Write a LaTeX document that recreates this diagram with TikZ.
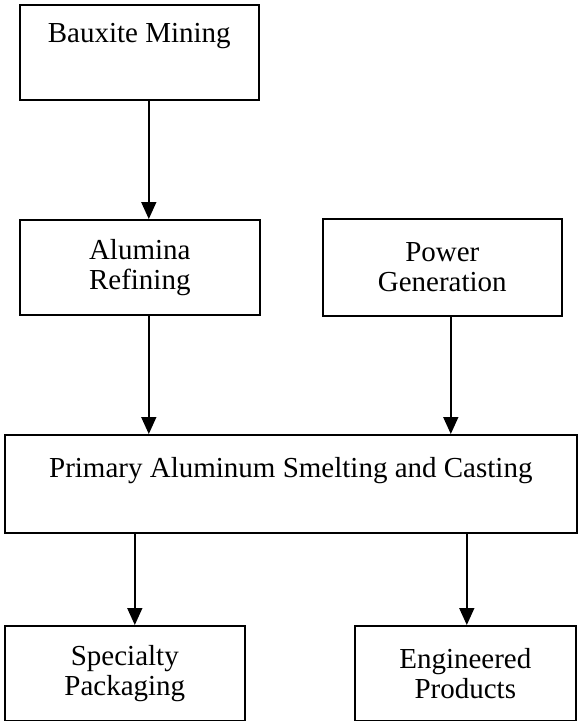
\documentclass[tikz,border=0pt]{standalone}
\usepackage{fontspec}
\setmainfont{Liberation Serif}
\usetikzlibrary{arrows.meta}

\begin{document}
\begin{tikzpicture}[x=1pt, y=-1pt, line width=1.6pt,
  font=\fontsize{29}{30}\selectfont,
  stagebox/.style={draw, inner sep=0pt, anchor=north west, align=center, minimum height=95pt},
  topbox/.style={draw, inner sep=0pt, anchor=north west},
  flow/.style={->, >={Triangle[width=15pt,length=17pt]}}]
\useasboundingbox (0,0) rectangle (579,721);
% supply stages
\node[topbox, minimum width=239pt, text height=38pt, text depth=57pt] (bauxite) at (19,4) {Bauxite Mining};
\node[stagebox, minimum width=240pt] (alumina) at (19,219) {Alumina\\Refining};
\node[stagebox, minimum width=239pt, minimum height=97pt] (power) at (322,218) {Power\\Generation};
\node[topbox, minimum width=572pt, text height=43pt, text depth=55pt] (primary) at (4,434) {Primary Aluminum Smelting and Casting};
% products
\node[stagebox, minimum width=240pt] (specialty) at (4,625) {Specialty\\Packaging};
\node[stagebox, minimum width=221pt] (engineered) at (354,625) {Engineered\\Products};
% flows
\draw[flow] ([xshift=9.5pt]bauxite.south) -- ([xshift=9pt]alumina.north);
\draw[flow] ([xshift=9pt]alumina.south) -- ([xshift=9pt]alumina.south |- primary.north);
\draw[flow] ([xshift=8.5pt]power.south) -- ([xshift=8.5pt]power.south |- primary.north);
\draw[flow] ([xshift=10pt]specialty.north |- primary.south) -- ([xshift=10pt]specialty.north);
\draw[flow] ([xshift=1.5pt]engineered.north |- primary.south) -- ([xshift=1.5pt]engineered.north);
\end{tikzpicture}
\end{document}
